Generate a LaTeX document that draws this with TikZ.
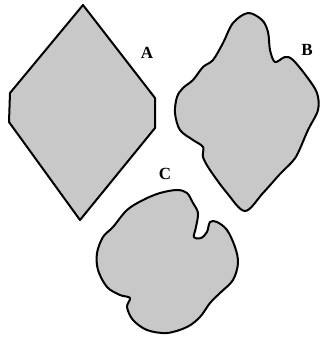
\documentclass[tikz,border=0pt]{standalone}
\usepackage{fontspec}
\setmainfont{Liberation Serif}
\usepackage{xcolor}
\usepackage{tikz}

\definecolor{blobgray}{RGB}{200,200,200}

\begin{document}
\begin{tikzpicture}[
      x=1pt, y=-1pt,
      font=\fontsize{17}{17}\selectfont\bfseries,
      blob/.style={draw=black, fill=blobgray, line width=2pt, line join=round},
      tag/.style={inner sep=0pt, anchor=center},
    ]
    \useasboundingbox (0,0) rectangle (320,341);

    % Particle A: faceted crystal
    \draw[blob] (83,5) -- (155,98) -- (155,128) -- (80,220) -- (9,122) -- (10,93) -- cycle;
    \node[tag] (labA) at (147,53) {A};

    % Particle B: rounded, wavy outline
    \draw[blob] plot[smooth cycle, tension=0.55] coordinates {
      (248,13) (262,20) (268,32) (270,50) (275,62) (285,57) (293,60)
      (307,77) (317,93) (318,110) (308,130) (298,153) (292,162)
      (280,174) (263,193) (245,211) (227,193) (210,170) (203,157)
      (203,147) (193,140) (180,130) (175,113) (177,97) (183,88)
      (193,80) (203,67) (213,60) (223,43) (233,23)};
    \node[tag] (labB) at (307,50) {B};

    % Particle C: roughly round, notched at top right
    \draw[blob] plot[smooth cycle, tension=0.55] coordinates {
      (177,190) (187,193) (193,203) (198,213) (196,227) (194,237)
      (201,238) (207,232) (210,222) (217,222) (227,230) (235,247)
      (238,263) (233,280) (220,293) (210,303) (200,317) (187,327)
      (167,333) (147,330) (133,320) (127,307) (130,298) (120,295)
      (107,287) (98,270) (97,253) (103,237) (113,227) (127,210)
      (143,200) (160,193)};
    \node[tag] (labC) at (165,174) {C};

  \end{tikzpicture}
\end{document}
